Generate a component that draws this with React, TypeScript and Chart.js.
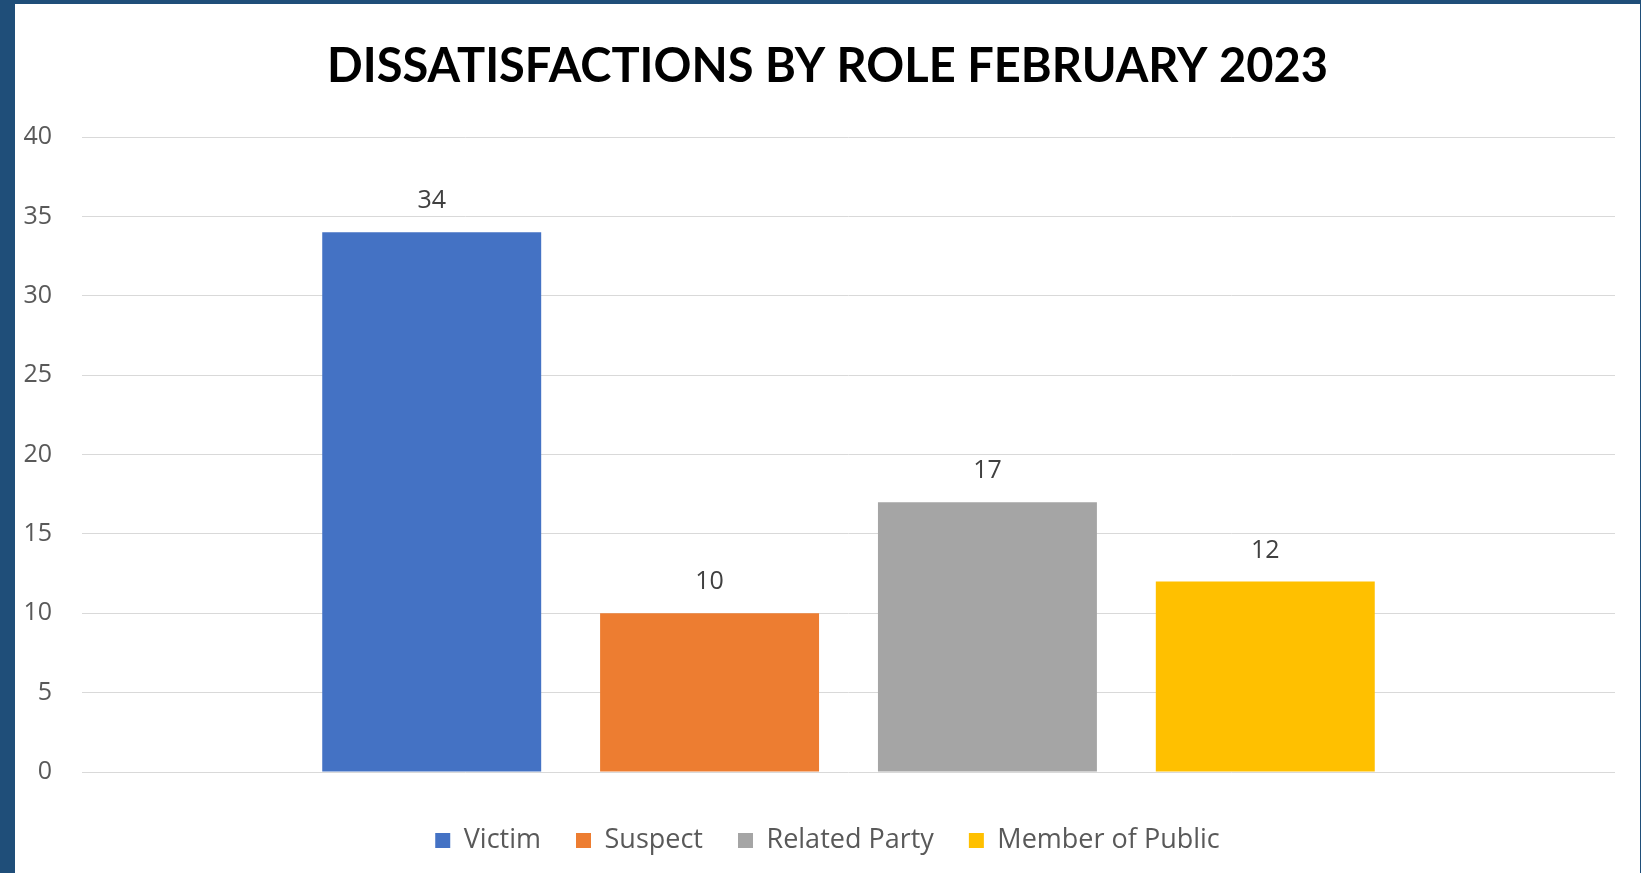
import React, { useEffect, useRef } from "react";
import { Chart, registerables } from "chart.js";

Chart.register(...registerables);

const title = "DISSATISFACTIONS BY ROLE FEBRUARY 2023";
const categories = [""];
const seriesNames = ["Victim", "Suspect", "Related Party", "Member of Public"];
const victimValues = [34];
const suspectValues = [10];
const relatedPartyValues = [17];
const memberOfPublicValues = [12];
const seriesColors = ["#4472C4", "#ED7D31", "#A5A5A5", "#FFC000"];
const yMin = 0;
const yMax = 40;
const yStep = 5;

const CANVAS_W = 1625;
const CANVAS_H = 860;

const dataLabelPlugin = {
  id: "dataLabels",
  afterDatasetsDraw(chart: any) {
    const ctx = chart.ctx;
    ctx.save();
    ctx.font = "25px 'Open Sans'";
    ctx.fillStyle = "#404040";
    ctx.textAlign = "center";
    ctx.textBaseline = "alphabetic";
    chart.data.datasets.forEach((ds: any, di: number) => {
      const meta = chart.getDatasetMeta(di);
      meta.data.forEach((el: any, i: number) => {
        ctx.fillText(String(ds.data[i]), el.x, el.y - 24);
      });
    });
    ctx.restore();
  },
};

export default function App() {
  const ref = useRef<HTMLCanvasElement | null>(null);

  useEffect(() => {
    if (!ref.current) return;
    const allValues = [victimValues, suspectValues, relatedPartyValues, memberOfPublicValues];
    const chart = new Chart(ref.current, {
      type: "bar",
      data: {
        labels: categories,
        datasets: seriesNames.map((name, i) => ({
          label: name,
          data: allValues[i],
          backgroundColor: seriesColors[i],
          borderWidth: 0,
          categoryPercentage: 0.725,
          barPercentage: 0.788,
          yAxisID: "y",
        })),
      },
      options: {
        responsive: false,
        animation: false,
        layout: { padding: { left: 0, right: 0, top: 0, bottom: 0 } },
        scales: {
          x: {
            grid: { display: false },
            border: { display: false },
            ticks: { display: false },
            afterFit(scale: any) {
              scale.height = 20;
            },
          },
          y: {
            position: "left",
            min: yMin,
            max: yMax,
            ticks: {
              stepSize: yStep,
              padding: 30,
              color: "#595959",
              font: { family: "'Open Sans'", size: 25 },
            },
            grid: { color: "#D9D9D9", lineWidth: 1, drawTicks: false },
            border: { display: false },
            afterFit(scale: any) {
              scale.width = 67;
            },
          },
          yRight: {
            type: "linear",
            position: "right",
            display: true,
            min: yMin,
            max: yMax,
            grid: { display: false, drawTicks: false },
            border: { display: false },
            ticks: { display: false },
            afterFit(scale: any) {
              scale.width = 25;
            },
          },
        },
        plugins: {
          title: {
            display: true,
            text: title,
            color: "#000000",
            font: { family: "Lato", size: 47, weight: "bold", lineHeight: 1.2 },
            padding: { top: 35, bottom: 41.6 },
          },
          legend: {
            position: "bottom",
            labels: {
              color: "#595959",
              font: { family: "'Open Sans'", size: 27 },
              boxWidth: 15,
              boxHeight: 15,
              padding: 35,
            },
          },
          tooltip: { enabled: false },
        },
      },
      plugins: [dataLabelPlugin],
    });
    return () => chart.destroy();
  }, []);

  return (
    <div
      style={{
        position: "fixed",
        left: 0,
        top: 0,
        width: 1641,
        height: 873,
        background: "#1F4E79",
        overflow: "hidden",
      }}
    >
      <div
        style={{
          position: "absolute",
          left: 15,
          top: 4,
          width: 1625,
          height: 869,
          background: "#FFFFFF",
        }}
      >
        <canvas
          ref={ref}
          width={CANVAS_W}
          height={CANVAS_H}
          style={{ display: "block", width: CANVAS_W, height: CANVAS_H }}
        />
      </div>
    </div>
  );
}
